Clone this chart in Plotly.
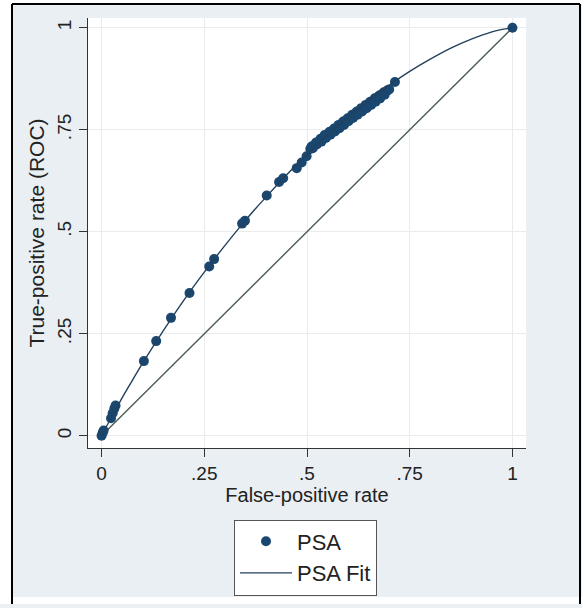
import plotly.graph_objects as go

# ---------------- data ----------------
psa_fpr = [0.000, 0.003, 0.005, 0.023, 0.027, 0.031, 0.034,
           0.103, 0.133, 0.169, 0.214, 0.262, 0.274, 0.342, 0.349,
           0.402, 0.432, 0.442, 0.475, 0.487, 0.499,
           0.508, 0.511, 0.514, 0.519, 0.522, 0.524, 0.530, 0.533, 0.535,
           0.541, 0.543, 0.546, 0.552, 0.555, 0.557, 0.563, 0.566, 0.568,
           0.574, 0.577, 0.579, 0.585, 0.588, 0.590, 0.596, 0.599, 0.601,
           0.607, 0.610, 0.612, 0.618, 0.621, 0.623, 0.629, 0.632, 0.634,
           0.640, 0.643, 0.645, 0.651, 0.654, 0.656, 0.662, 0.665, 0.667,
           0.673, 0.676, 0.678, 0.684, 0.687, 0.689, 0.695, 0.700,
           0.714, 1.000]
psa_tpr = [0.000, 0.008, 0.013, 0.043, 0.055, 0.066, 0.074,
           0.183, 0.232, 0.289, 0.350, 0.415, 0.433, 0.520, 0.527,
           0.589, 0.622, 0.631, 0.656, 0.670, 0.685,
           0.703, 0.709, 0.705, 0.713, 0.719, 0.714, 0.722, 0.728, 0.721,
           0.731, 0.737, 0.730, 0.740, 0.745, 0.738, 0.748, 0.753, 0.746,
           0.757, 0.762, 0.754, 0.765, 0.770, 0.762, 0.774, 0.778, 0.771,
           0.782, 0.787, 0.779, 0.790, 0.795, 0.787, 0.798, 0.803, 0.795,
           0.806, 0.811, 0.803, 0.815, 0.819, 0.811, 0.822, 0.827, 0.819,
           0.831, 0.834, 0.827, 0.838, 0.842, 0.836, 0.846, 0.849,
           0.867, 1.000]

fit_fpr = [0.0, 0.005, 0.01, 0.02, 0.03, 0.05, 0.075, 0.10, 0.15, 0.20,
           0.25, 0.30, 0.35, 0.40, 0.45, 0.50, 0.55, 0.60, 0.65, 0.70,
           0.75, 0.80, 0.85, 0.90, 0.95, 0.975, 1.0]
fit_tpr = [0.0, 0.009, 0.019, 0.038, 0.056, 0.093, 0.136, 0.178, 0.257, 0.332,
           0.401, 0.466, 0.528, 0.585, 0.639, 0.690, 0.737, 0.781, 0.822, 0.859,
           0.893, 0.923, 0.950, 0.972, 0.990, 0.996, 1.0]

ref_x = [0, 1]
ref_y = [0, 1]

tick_vals = [0, 0.25, 0.5, 0.75, 1]
tick_text = ["0", ".25", ".5", ".75", "1"]

# ---------------- style ----------------
FONT = "Liberation Sans, Arial, sans-serif"
NAVY = "#1a476f"
FITC = "#23405c"
REFC = "#4a5e50"
BG = "#e9eff2"
GRID = "#ebebeb"
AXC = "#333333"

W, H = 582, 608
ML, MR, MT, MB = 88, 56, 18, 157
PW, PH = W - ML - MR, H - MT - MB


def pxx(p):
    return (p - ML) / PW


def pxy(p):
    return (H - MB - p) / PH


fig = go.Figure()
fig.add_trace(go.Scatter(x=ref_x, y=ref_y, mode="lines",
                         line=dict(color=REFC, width=1.4),
                         showlegend=False, hoverinfo="skip"))
fig.add_trace(go.Scatter(x=psa_fpr, y=psa_tpr, mode="markers", name="PSA",
                         marker=dict(color=NAVY, size=10, line=dict(width=0))))
fig.add_trace(go.Scatter(x=fit_fpr, y=fit_tpr, mode="lines", name="PSA Fit",
                         line=dict(color=FITC, width=1.4, shape="spline")))

axis_common = dict(
    tickvals=tick_vals, ticktext=tick_text,
    showgrid=True, gridcolor=GRID, gridwidth=1,
    zeroline=False, showline=True, linecolor=AXC, linewidth=1,
    ticks="outside", ticklen=8, tickcolor=AXC, tickwidth=1,
    tickfont=dict(family=FONT, size=19, color="#222"),
)

fig.update_xaxes(range=[-0.033, 1.033], **axis_common,
                 title=dict(text="False-positive rate",
                            font=dict(family=FONT, size=20, color="#222"),
                            standoff=2))
fig.update_yaxes(range=[-0.030, 1.024], tickangle=-90, **axis_common,
                 title=dict(text="True-positive rate (ROC)",
                            font=dict(family=FONT, size=21, color="#222"),
                            standoff=4))

shapes = [
    # white strips outside the frame
    dict(type="rect", xref="paper", yref="paper", x0=pxx(0), x1=pxx(12),
         y0=pxy(H), y1=pxy(0), fillcolor="white", line=dict(width=0), layer="below"),
    dict(type="rect", xref="paper", yref="paper", x0=pxx(0), x1=pxx(W),
         y0=pxy(4), y1=pxy(0), fillcolor="white", line=dict(width=0), layer="below"),
    dict(type="rect", xref="paper", yref="paper", x0=pxx(0), x1=pxx(W),
         y0=pxy(H), y1=pxy(601), fillcolor="white", line=dict(width=0), layer="below"),
    # black frame lines
    dict(type="line", xref="paper", yref="paper", x0=pxx(12), x1=pxx(12),
         y0=pxy(608), y1=pxy(4), line=dict(color="black", width=2)),
    dict(type="line", xref="paper", yref="paper", x0=pxx(12), x1=pxx(580),
         y0=pxy(4), y1=pxy(4), line=dict(color="black", width=2)),
    dict(type="line", xref="paper", yref="paper", x0=pxx(580), x1=pxx(580),
         y0=pxy(608), y1=pxy(4), line=dict(color="black", width=2)),
]

fig.update_layout(
    width=W, height=H,
    margin=dict(l=ML, r=MR, t=MT, b=MB, pad=0),
    paper_bgcolor=BG, plot_bgcolor="white",
    font=dict(family=FONT, color="#222"),
    shapes=shapes,
    legend=dict(x=pxx(305.5), xanchor="center", y=pxy(523), yanchor="top",
                bgcolor="white", bordercolor="#555", borderwidth=1,
                font=dict(family=FONT, size=22, color="#222"),
                itemwidth=52, tracegroupgap=0),
    showlegend=True,
)

fig.write_html("out.html")
